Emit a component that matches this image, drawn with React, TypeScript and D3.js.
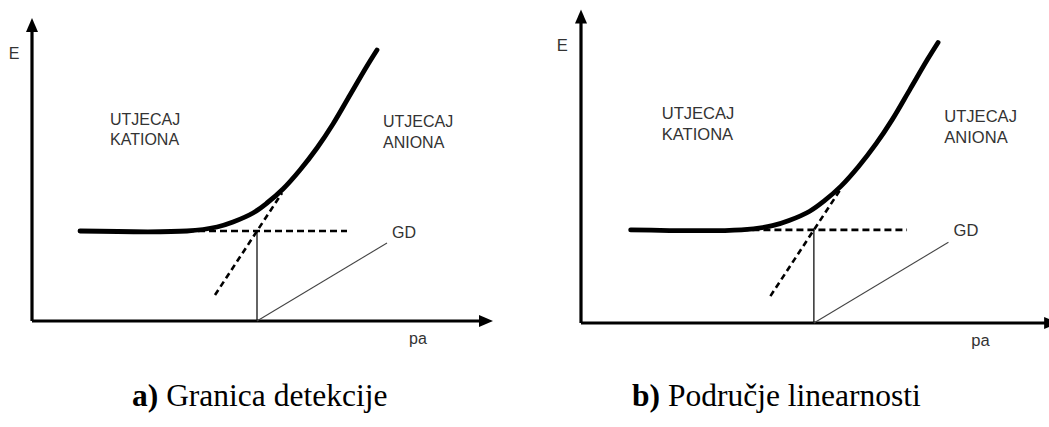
import React from "react";
import * as d3 from "d3";

// Data in abstract units (pa on x, E on y)
const curveX = [48, 155, 185, 201, 221, 235, 251, 268, 285, 301, 318, 335, 345];
const curveY = [90, 90, 94, 99, 108, 118, 132, 151, 173, 197, 226, 255, 271];
const tangentX = [183, 250];
const tangentY = [26, 128];
const levelX = [155, 315];
const levelY = [90, 90];
const dropX = [225, 225];
const dropY = [90, 0];
const gdX = [225, 355];
const gdY = [0, 78];
const axisMaxX = 461;
const axisMaxY = 303;

const regionLabels = [
  { lines: ["UTJECAJ", "KATIONA"], x: 78, y: [202, 182] },
  { lines: ["UTJECAJ", "ANIONA"], x: 351, y: [200, 179] },
];
const gdLabel = { text: "GD", x: 360, y: 89 };
const eLabel = { text: "E", x: -18, y: 268 };
const paLabel = { text: "pa", x: 386, y: -17 };

const captions = [
  { bold: "a)", rest: " Granica detekcije" },
  { bold: "b)", rest: " Područje linearnosti" },
];

const panels = [
  { ox: 32, oy: 321, k: 1.0, cap: { x: 132, y: 406 } },
  { ox: 581, oy: 323, k: 1.035, cap: { x: 632, y: 406 } },
];

function Panel({ p, idx }: { p: any; idx: number }) {
  const x = d3.scaleLinear().domain([0, 100]).range([p.ox, p.ox + 100 * p.k]);
  const y = d3.scaleLinear().domain([0, 100]).range([p.oy, p.oy - 100 * p.k]);
  const line = d3.line<[number, number]>().x((d) => x(d[0])).y((d) => y(d[1]));
  const smooth = d3
    .line<[number, number]>()
    .x((d) => x(d[0]))
    .y((d) => y(d[1]))
    .curve(d3.curveCatmullRom.alpha(0.5));
  const zip = (a: number[], b: number[]) => a.map((v, i) => [v, b[i]] as [number, number]);
  const fs = 16 * p.k;
  const labelFont = "'Liberation Sans', Arial, sans-serif";
  const x0 = x(0), y0 = y(0), xt = x(axisMaxX), yt = y(axisMaxY);
  const ah = 14, aw = 6;
  return (
    <g>
      {/* axes */}
      <line x1={x0} y1={y0} x2={x0} y2={yt + ah - 1} stroke="#000" strokeWidth={3.2} />
      <path d={`M${x0},${yt} L${x0 - aw},${yt + ah} L${x0 + aw},${yt + ah} Z`} fill="#000" />
      <line x1={x0} y1={y0} x2={xt - ah + 1} y2={y0} stroke="#000" strokeWidth={3.2} />
      <path d={`M${xt},${y0} L${xt - ah},${y0 - aw} L${xt - ah},${y0 + aw} Z`} fill="#000" />
      {/* helper lines */}
      <path d={line(zip(dropX, dropY)) || ""} stroke="#111" strokeWidth={1.3} fill="none" />
      <path d={line(zip(gdX, gdY)) || ""} stroke="#444" strokeWidth={1.1} fill="none" />
      <path d={line(zip(levelX, levelY)) || ""} stroke="#000" strokeWidth={2.6} strokeDasharray="7 4" fill="none" />
      <path d={line(zip(tangentX, tangentY)) || ""} stroke="#000" strokeWidth={2.6} strokeDasharray="6 4" fill="none" />
      {/* response curve */}
      <path d={smooth(zip(curveX, curveY)) || ""} stroke="#000" strokeWidth={4.8} fill="none" strokeLinecap="round" />
      {/* labels */}
      <g fontFamily={labelFont} fontSize={fs} fill="#333">
        {regionLabels.map((r, i) =>
          r.lines.map((t, j) => (
            <text key={`${i}-${j}`} x={x(r.x)} y={y(r.y[j])} dominantBaseline="central">
              {t}
            </text>
          ))
        )}
        <text x={x(gdLabel.x)} y={y(gdLabel.y)} dominantBaseline="central">{gdLabel.text}</text>
        <text x={x(eLabel.x)} y={y(eLabel.y)} textAnchor="middle" dominantBaseline="central">{eLabel.text}</text>
        <text x={x(paLabel.x)} y={y(paLabel.y)} textAnchor="middle" dominantBaseline="central">{paLabel.text}</text>
      </g>
      <text x={p.cap.x} y={p.cap.y} fontFamily="'Liberation Serif', 'Times New Roman', serif" fontSize={31.5} fill="#000">
        <tspan fontWeight="bold">{captions[idx].bold}</tspan>
        <tspan>{captions[idx].rest}</tspan>
      </text>
    </g>
  );
}

export default function App() {
  return (
    <svg
      width={1049}
      height={427}
      style={{ position: "absolute", left: 0, top: 0, background: "#fff" }}
    >
      <rect width={1049} height={427} fill="#fff" />
      {panels.map((p, i) => (
        <Panel key={i} p={p} idx={i} />
      ))}
    </svg>
  );
}
